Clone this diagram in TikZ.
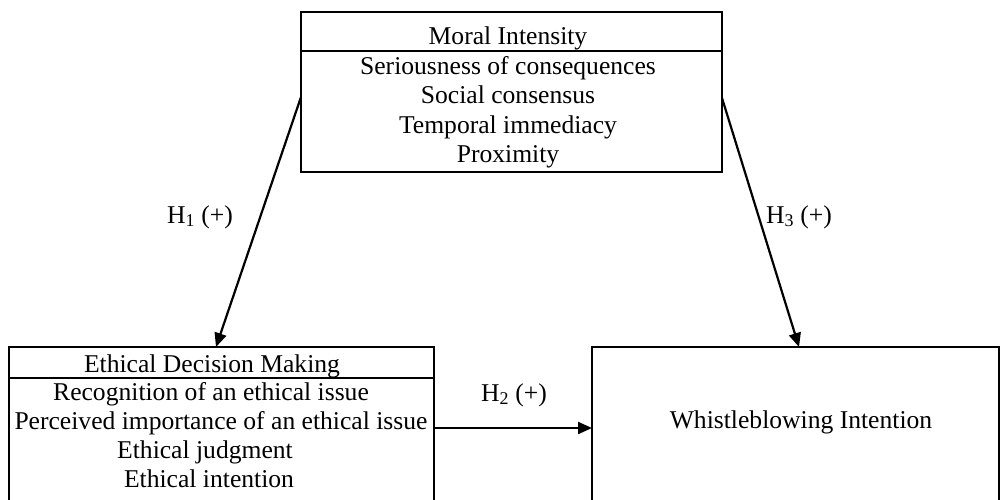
\documentclass[tikz,border=0pt]{standalone}
\usepackage{fontspec}
\setmainfont{Liberation Serif}
\usetikzlibrary{arrows.meta,calc}
\begin{document}
\begin{tikzpicture}[x=1pt,y=-1pt,
  box/.style={draw=black,line width=2.4pt,rectangle,outer sep=0pt,inner sep=0pt,anchor=north west},
  txt/.style={anchor=base,inner sep=0pt,font=\fontsize{25.6}{29.5}\selectfont},
  conn/.style={line width=2.2pt,-{Triangle[length=14pt,width=12pt]}},
  lab/.style={anchor=base,inner sep=0pt,font=\fontsize{25.6}{29.5}\selectfont}]
\useasboundingbox (0,0) rectangle (1003,499);
\clip (0,0) rectangle (1003,499);
% boxes
\node[box,minimum width=421pt,minimum height=160pt] (mi) at (301,12) {};
\node[box,minimum width=425pt,minimum height=200pt] (edm) at (9,347) {};
\node[box,minimum width=407pt,minimum height=200pt] (wi) at (592,347) {};
\draw[line width=2.4pt] ($(mi.north west)+(0,39)$) -- ($(mi.north east)+(0,39)$);
\draw[line width=2.4pt] ($(edm.north west)+(0,31)$) -- ($(edm.north east)+(0,31)$);
% Moral intensity text
\node[txt] (mi0) at (508,44) {Moral Intensity};
\node[txt] (mi1) at (508,74) {Seriousness of consequences};
\node[txt] (mi2) at (508,103) {Social consensus};
\node[txt] (mi3) at (508,133) {Temporal immediacy};
\node[txt] (mi4) at (508,162) {Proximity};
% EDM text
\node[txt] (e0) at (212,372) {Ethical Decision Making};
\node[txt] (e1) at (211,400) {Recognition of an ethical issue};
\node[txt] (e2) at (221,429) {Perceived importance of an ethical issue};
\node[txt] (e3) at (205,458) {Ethical judgment};
\node[txt] (e4) at (209,487) {Ethical intention};
% WI text
\node[txt] (w0) at (801,428) {Whistleblowing Intention};
% connectors
\coordinate (h1s) at ($(mi.north west)+(0,85)$);
\coordinate (h1e) at ($(edm.north west)+(207,0)$);
\coordinate (h3s) at ($(mi.north east)+(0,86)$);
\coordinate (h3e) at ($(wi.north west)+(207,0)$);
\coordinate (h2s) at ($(edm.north east)+(0,81)$);
\coordinate (h2e) at ($(wi.north west)+(0,81)$);
\draw[conn] (h1s) -- (h1e);
\draw[conn] (h3s) -- (h3e);
\draw[conn] (h2s) -- (h2e);
% labels
\node[lab] (l1) at (200,223) {H\textsubscript{1} (+)};
\node[lab] (l3) at (799,223) {H\textsubscript{3} (+)};
\node[lab] (l2) at (514,401) {H\textsubscript{2} (+)};
\end{tikzpicture}
\end{document}
